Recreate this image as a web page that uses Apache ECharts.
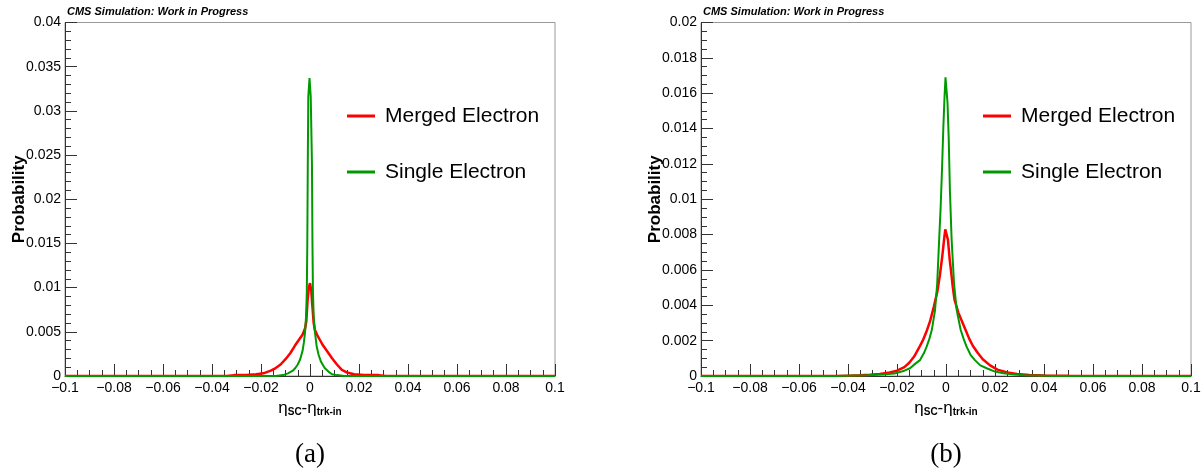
<!DOCTYPE html>
<html>
<head>
<meta charset="utf-8">
<title>eta SC - eta trk-in</title>
<script src="https://cdn.jsdelivr.net/npm/echarts@6.0.0/dist/echarts.min.js"></script>
<style>
  html, body { margin: 0; padding: 0; background: #fff; }
  #chart { width: 1204px; height: 474px; }
</style>
</head>
<body>
<div id="chart"></div>
<script>
// (a) 面板
var aRedX = [-0.1, -0.034, -0.031, -0.026, -0.022, -0.019, -0.016, -0.014, -0.012, -0.010, -0.008, -0.006, -0.004, -0.003, -0.002, -0.0015, -0.001, -0.0005, 0, 0.0005, 0.001, 0.0015, 0.002, 0.003, 0.004, 0.005, 0.007, 0.009, 0.011, 0.013, 0.015, 0.018, 0.022, 0.028, 0.031, 0.1];
var aRedY = [0, 0, 0.0001, 0.0001, 0.0002, 0.0003, 0.0006, 0.0009, 0.0013, 0.0019, 0.0026, 0.0035, 0.0043, 0.0047, 0.0054, 0.0062, 0.0085, 0.0100, 0.0105, 0.0097, 0.0078, 0.0060, 0.0052, 0.0046, 0.0041, 0.0036, 0.0028, 0.0020, 0.0013, 0.0007, 0.0004, 0.0002, 0.0001, 0.0001, 0, 0];
var aGreenX = [-0.1, -0.014, -0.011, -0.009, -0.007, -0.006, -0.005, -0.004, -0.003, -0.0025, -0.002, -0.0016, -0.0013, -0.0011, -0.0009, -0.0007, -0.0003, -0.0002, 0.0002, 0.0003, 0.0006, 0.0008, 0.001, 0.0012, 0.0015, 0.002, 0.0027, 0.0035, 0.0045, 0.006, 0.0075, 0.009, 0.011, 0.014, 0.1];
var aGreenY = [0, 0, 0.0001, 0.0003, 0.0006, 0.0009, 0.0013, 0.0019, 0.0029, 0.0038, 0.0050, 0.0068, 0.0095, 0.0150, 0.0240, 0.0316, 0.0316, 0.0337, 0.0337, 0.0316, 0.0316, 0.0240, 0.0150, 0.0095, 0.0068, 0.0050, 0.0034, 0.0024, 0.0016, 0.0009, 0.0005, 0.0002, 0.0001, 0, 0];

// (b) 面板
var bRedX = [-0.1, -0.045, -0.04, -0.035, -0.031, -0.027, -0.023, -0.020, -0.017, -0.015, -0.013, -0.011, -0.0095, -0.008, -0.0065, -0.005, -0.0035, -0.0025, -0.0015, -0.0008, -0.0003, 0.0002, 0.0008, 0.0015, 0.002, 0.0028, 0.0035, 0.005, 0.0065, 0.008, 0.0095, 0.011, 0.013, 0.015, 0.018, 0.021, 0.025, 0.029, 0.034, 0.04, 0.05, 0.06, 0.1];
var bRedY = [0, 0, 0.00002, 0.00004, 0.00007, 0.00012, 0.0002, 0.0003, 0.0005, 0.00075, 0.0011, 0.0016, 0.0020, 0.0025, 0.0031, 0.0039, 0.0048, 0.0057, 0.0068, 0.0077, 0.0083, 0.0083, 0.0077, 0.0066, 0.0060, 0.0050, 0.0043, 0.0036, 0.0031, 0.0026, 0.0021, 0.0017, 0.0013, 0.00095, 0.0006, 0.00036, 0.0002, 0.00012, 0.00006, 0.00003, 0.00001, 0, 0];
var bGreenX = [-0.1, -0.045, -0.04, -0.032, -0.026, -0.021, -0.017, -0.0147, -0.0125, -0.0106, -0.009, -0.0079, -0.0068, -0.0058, -0.0045, -0.0036, -0.0028, -0.0022, -0.0016, -0.0011, -0.0006, -0.0002, 0.0002, 0.0006, 0.0011, 0.0016, 0.0023, 0.0033, 0.0044, 0.006, 0.0072, 0.0084, 0.010, 0.0118, 0.014, 0.0166, 0.020, 0.0234, 0.028, 0.032, 0.04, 0.045, 0.1];
var bGreenY = [0, 0, 0.00002, 0.00004, 0.00008, 0.00014, 0.0003, 0.00044, 0.0007, 0.0009, 0.0013, 0.00166, 0.0021, 0.0026, 0.0037, 0.0052, 0.0077, 0.0095, 0.0118, 0.0140, 0.0158, 0.0169, 0.0169, 0.0155, 0.0135, 0.0105, 0.0077, 0.0052, 0.0037, 0.0026, 0.0021, 0.00166, 0.0012, 0.0009, 0.0006, 0.00044, 0.00025, 0.00015, 0.00008, 0.00004, 0.00002, 0, 0];

var xTicks = { min: -0.1, max: 0.1, step: 0.02 };
var yMaxA = 0.04, yStepA = 0.005;
var yMaxB = 0.02, yStepB = 0.002;
var seriesNames = ['Merged Electron', 'Single Electron'];
var panelTags = ['(a)', '(b)'];
var headerText = 'CMS Simulation: Work in Progress';

var FONT = '"Liberation Sans", Arial, Helvetica, sans-serif';
var RED = '#ff0000';
var GREEN = '#009a00';
var AXIS = '#333';

function pairs(xs, ys) {
	var out = [];
	for (var i = 0; i < xs.length; i++) {
		out.push([xs[i], ys[i]]);
	}
	return out;
}

function xLabel(v) {
	var s = String(parseFloat(v.toFixed(3)));
	return s.replace('-', '\u2212');
}

function yLabel(v) {
	return String(parseFloat(v.toFixed(4)));
}

function makeX(idx) {
	return {
		type: 'value',
		gridIndex: idx,
		min: xTicks.min,
		max: xTicks.max,
		interval: xTicks.step,
		axisLine: { onZero: false, lineStyle: { color: AXIS, width: 1 } },
		axisTick: { inside: true, length: 12, lineStyle: { color: AXIS } },
		minorTick: { show: true, splitNumber: 4, length: 6, lineStyle: { color: AXIS } },
		splitLine: { show: false },
		axisLabel: { color: '#000', fontSize: 14, fontFamily: FONT, margin: 5, formatter: xLabel, showMinLabel: true, showMaxLabel: true },
		name: '{e|η}{s|SC}{e|-η}{s|trk-in}',
		nameLocation: 'middle',
		nameMoveOverlap: false,
		nameGap: 24,
		nameTextStyle: {
			rich: {
				e: { fontSize: 17, fontFamily: FONT, color: '#000', verticalAlign: 'top', lineHeight: 17 },
				s: { fontSize: 10, fontWeight: 'bold', fontFamily: FONT, color: '#000', verticalAlign: 'bottom', lineHeight: 10, padding: [14, 0, 0, 0] }
			}
		}
	};
}

function makeY(idx, max, step, minorSplit) {
	return {
		type: 'value',
		gridIndex: idx,
		min: 0,
		max: max,
		interval: step,
		axisLine: { show: true, onZero: false, lineStyle: { color: AXIS, width: 1 } },
		axisTick: { show: true, inside: true, length: 12, lineStyle: { color: AXIS } },
		minorTick: { show: true, splitNumber: minorSplit, length: 6, lineStyle: { color: AXIS } },
		splitLine: { show: false },
		axisLabel: { color: '#000', fontSize: 14, fontFamily: FONT, margin: 4, formatter: yLabel },
		name: 'Probability',
		nameLocation: 'middle',
		nameMoveOverlap: false,
		nameRotate: 90,
		nameGap: 37,
		nameTextStyle: { fontSize: 17, fontWeight: 'bold', fontFamily: FONT, color: '#000' }
	};
}

function makeLine(name, color, width, idx, xs, ys) {
	return {
		name: name,
		type: 'line',
		xAxisIndex: idx,
		yAxisIndex: idx,
		showSymbol: false,
		symbol: 'none',
		color: color,
		lineStyle: { color: color, width: width },
		data: pairs(xs, ys)
	};
}

function makeLegend(left) {
	return {
		left: left,
		top: 104,
		padding: 0,
		orient: 'vertical',
		icon: 'rect',
		itemWidth: 28,
		itemHeight: 3,
		itemGap: 32,
		textStyle: { fontSize: 21, lineHeight: 24, color: '#000', fontFamily: FONT, padding: [0, 0, 0, 5] },
		data: seriesNames
	};
}

function makeHeader(left) {
	return {
		text: headerText,
		left: left,
		top: 1,
		textStyle: { fontSize: 11, fontWeight: 'bold', fontStyle: 'italic', fontFamily: FONT, color: '#000' }
	};
}

var myChart = echarts.init(document.getElementById('chart'), null, { renderer: 'canvas' });

myChart.setOption({
	animation: false,
	backgroundColor: '#fff',
	title: [makeHeader(62), makeHeader(698)],
	legend: [makeLegend(347), makeLegend(983)],
	grid: [
		{ left: 65, top: 22.5, width: 490, height: 353.5, show: true, borderColor: '#999', borderWidth: 1, backgroundColor: 'transparent' },
		{ left: 701, top: 22.5, width: 490, height: 353.5, show: true, borderColor: '#999', borderWidth: 1, backgroundColor: 'transparent' }
	],
	xAxis: [makeX(0), makeX(1)],
	yAxis: [makeY(0, yMaxA, yStepA, 5), makeY(1, yMaxB, yStepB, 4)],
	series: [
		makeLine(seriesNames[0], RED, 2.5, 0, aRedX, aRedY),
		makeLine(seriesNames[1], GREEN, 2, 0, aGreenX, aGreenY),
		makeLine(seriesNames[0], RED, 2.5, 1, bRedX, bRedY),
		makeLine(seriesNames[1], GREEN, 2, 1, bGreenX, bGreenY)
	],
	graphic: [
		{ type: 'text', style: { text: panelTags[0], x: 310, y: 455, align: 'center', verticalAlign: 'middle', fontSize: 27, fontFamily: '"Liberation Serif", "DejaVu Serif", serif', fill: '#000' } },
		{ type: 'text', style: { text: panelTags[1], x: 946, y: 455, align: 'center', verticalAlign: 'middle', fontSize: 27, fontFamily: '"Liberation Serif", "DejaVu Serif", serif', fill: '#000' } }
	]
});
</script>
</body>
</html>
